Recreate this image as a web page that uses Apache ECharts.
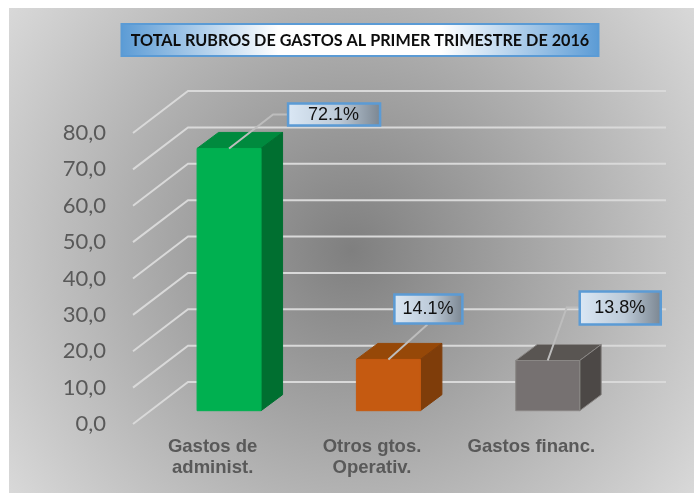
<!DOCTYPE html>
<html>
<head>
<meta charset="utf-8">
<style>html,body{margin:0;padding:0;background:#fff}#c{width:694px;height:493px}</style>
<script src="https://cdn.jsdelivr.net/npm/echarts@6/dist/echarts.min.js"></script>
</head>
<body>
<div id="c"></div>
<script>
const titleText = 'TOTAL RUBROS DE GASTOS AL PRIMER TRIMESTRE DE 2016';
const categories = ['Gastos de\nadminist.', 'Otros gtos.\nOperativ.', 'Gastos financ.'];
const values = [72.1, 14.1, 13.8];
const valueLabels = ['72.1%', '14.1%', '13.8%'];
const gridTicks = [0, 10, 20, 30, 40, 50, 60, 70, 80];
const faceColors = ['#00b050', '#c55a11', '#767171'];
const topColors = ['#008a3e', '#964808', '#595552'];
const sideColors = ['#006f30', '#7f3d0a', '#4c4846'];
// label callouts relative to bar top-centre: box [dx,dy,w,h], elbow [dx,dy] or null
const callouts = [
  { box: [58, -46, 94, 24], elbow: [44, -34], end: [58, -34] },
  { box: [5, -66, 70, 31], elbow: null, end: [39, -35] },
  { box: [31, -70, 83, 35], elbow: [19, -53], end: [31, -53] }
];

const G = { left: 133, top: 133, width: 478, height: 291 };
const WALL = { dx: 55, dy: -42 };
const BAR = { off: 16.4, offY: -13.3, dx: 21.5, dy: -16, w: 64 };
const poly = (points, fill, stroke) => ({
  type: 'polygon', shape: { points }, style: { fill, stroke: stroke || fill, lineWidth: 1 }
});
const boxGrad = new echarts.graphic.LinearGradient(0, 0, 1, 0, [
  { offset: 0, color: '#dbe8f5' }, { offset: 0.55, color: '#bccad8' }, { offset: 1, color: '#7a8590' }
]);

function renderGrid(params, api) {
  const cs = params.coordSys;
  const y = api.coord([0, api.value(1)])[1];
  return {
    type: 'polyline',
    shape: { points: [[cs.x, y], [cs.x + WALL.dx, y + WALL.dy], [cs.x + cs.width + WALL.dx, y + WALL.dy]] },
    style: { fill: null, stroke: '#d9d9d9', lineWidth: 2 },
    silent: true
  };
}

function renderBar(params, api) {
  const i = params.dataIndex;
  const c = api.coord([api.value(0), api.value(1)]);
  const base = api.coord([api.value(0), 0]);
  const xc = c[0] + BAR.off, t = c[1] + BAR.offY, b = base[1] + BAR.offY;
  const l = xc - BAR.w / 2, r = xc + BAR.w / 2;
  const line = i === 2 ? '#8a8785' : null;
  return {
    type: 'group',
    children: [
      poly([[l, t], [r, t], [r + BAR.dx, t + BAR.dy], [l + BAR.dx, t + BAR.dy]], topColors[i], line),
      poly([[r, t], [r + BAR.dx, t + BAR.dy], [r + BAR.dx, b + BAR.dy], [r, b]], sideColors[i], line),
      poly([[l, t], [r, t], [r, b], [l, b]], faceColors[i], line)
    ]
  };
}

function renderLabel(params, api) {
  const i = params.dataIndex;
  const c = api.coord([api.value(0), api.value(1)]);
  const xc = c[0] + BAR.off, t = c[1] + BAR.offY;
  const o = callouts[i];
  const pts = [[xc, t]];
  if (o.elbow) pts.push([xc + o.elbow[0], t + o.elbow[1]]);
  pts.push([xc + o.end[0], t + o.end[1]]);
  const bx = xc + o.box[0], by = t + o.box[1], bw = o.box[2], bh = o.box[3];
  return {
    type: 'group',
    children: [
      { type: 'polyline', shape: { points: pts }, style: { fill: null, stroke: '#bdbdbd', lineWidth: 2 } },
      { type: 'rect', shape: { x: bx + 1, y: by + 1, width: bw - 2, height: bh - 2 },
        style: { fill: boxGrad, stroke: '#5b9bd5', lineWidth: 2.5 } },
      { type: 'text', x: bx + bw / 2 - 0.5, y: by + bh / 2 + 0.5,
        style: { text: valueLabels[i], fill: '#111', font: '18px "Liberation Sans", Arial, sans-serif',
          align: 'center', verticalAlign: 'middle' } }
    ]
  };
}

const chart = echarts.init(document.getElementById('c'), null, { renderer: 'canvas' });
chart.setOption({
  animation: false,
  graphic: [
    { type: 'rect', z: -10, silent: true, shape: { x: 9, y: 8, width: 685, height: 485 },
      style: { fill: new echarts.graphic.RadialGradient(0.5, 0.5, 0.87, [
        { offset: 0, color: '#7f7f7f' }, { offset: 1, color: '#d9d9d9' }
      ]) } },
    { type: 'rect', z: -5, silent: true, shape: { x: 121.5, y: 24, width: 477, height: 32 },
      style: { fill: new echarts.graphic.LinearGradient(0, 0, 1, 0, [
        { offset: 0, color: '#5b9bd5' }, { offset: 0.33, color: '#ffffff' },
        { offset: 0.67, color: '#ffffff' }, { offset: 1, color: '#5b9bd5' }
      ]), stroke: '#5b9bd5', lineWidth: 2 } }
  ],
  title: {
    text: titleText, left: 355, top: 36, textAlign: 'center', textVerticalAlign: 'middle',
    textStyle: { color: '#0d0d0d', fontFamily: 'Lato', fontWeight: 'bold', fontSize: 16.2 }
  },
  grid: { left: G.left, top: G.top, width: G.width, height: G.height, containLabel: false },
  xAxis: {
    type: 'category', data: categories,
    axisLine: { show: false }, axisTick: { show: false },
    axisLabel: { margin: 12, color: '#595959', fontFamily: 'Liberation Sans', fontWeight: 'bold',
      fontSize: 18.5, lineHeight: 21, interval: 0 }
  },
  yAxis: {
    type: 'value', min: 0, max: 80, interval: 10,
    axisLine: { show: false }, axisTick: { show: false }, splitLine: { show: false },
    axisLabel: { margin: 27, color: '#595959', fontFamily: 'Lato', fontSize: 22, padding: [2, 0, 0, 0],
      formatter: v => v.toFixed(1).replace('.', ',') }
  },
  series: [
    { type: 'custom', z: 1, silent: true, clip: false, renderItem: renderGrid,
      encode: { x: 0, y: 1 }, data: gridTicks.map(v => [0, v]) },
    { type: 'custom', z: 2, silent: true, clip: false, renderItem: renderBar,
      encode: { x: 0, y: 1 }, data: values.map((v, i) => [i, v]) },
    { type: 'custom', z: 3, silent: true, clip: false, renderItem: renderLabel,
      encode: { x: 0, y: 1 }, data: values.map((v, i) => [i, v]) }
  ]
});
</script>
</body>
</html>
